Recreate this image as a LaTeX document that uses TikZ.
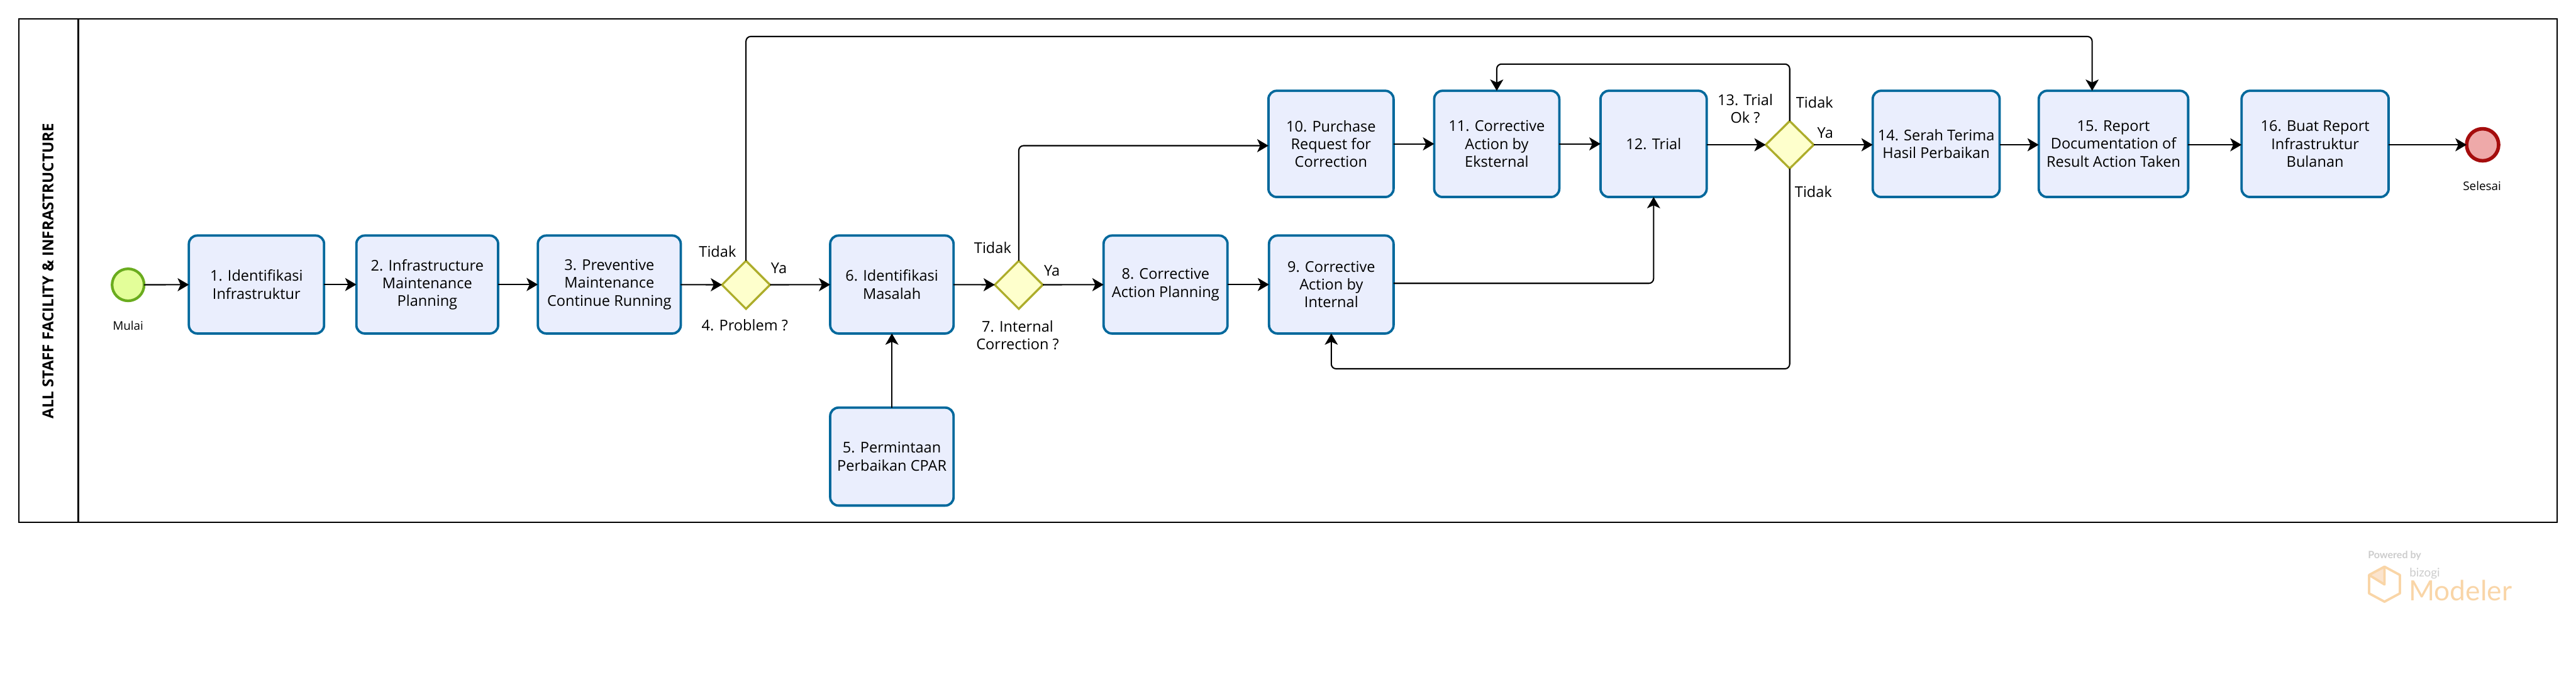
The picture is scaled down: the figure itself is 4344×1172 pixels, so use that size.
\documentclass[tikz,border=0pt]{standalone}
\usepackage{fontspec}
\setmainfont{Open Sans}
\newfontfamily\logofont{Lato}
\usetikzlibrary{arrows.meta,shapes.geometric}
\definecolor{taskfill}{HTML}{EAEEFD}
\definecolor{taskline}{HTML}{00689C}
\definecolor{startfill}{HTML}{E3FE99}
\definecolor{startline}{HTML}{6AAC1E}
\definecolor{endfill}{HTML}{EEA9A9}
\definecolor{endline}{HTML}{A50D0D}
\definecolor{gatefill}{HTML}{FEFFCC}
\definecolor{gateline}{HTML}{ADAD2B}
\definecolor{logoor}{HTML}{F9D5A7}
\definecolor{logosh}{HTML}{FBE4CE}
\definecolor{logogr}{HTML}{CCCCCC}
\tikzset{
  taskbox/.style={draw=taskline,fill=taskfill,line width=4pt,rounded corners=14pt,inner sep=0pt,outer sep=0pt,align=center,font=\fontsize{25}{30}\selectfont},
  gate/.style={draw=gateline,fill=gatefill,line width=3.5pt,diamond,aspect=1,inner sep=0pt,outer sep=0pt,minimum width=81pt,minimum height=81pt},
  startev/.style={draw=startline,fill=startfill,line width=4.5pt,circle,inner sep=0pt,outer sep=0pt,minimum size=54pt},
  endev/.style={draw=endline,fill=endfill,line width=6pt,circle,inner sep=0pt,outer sep=0pt,minimum size=54pt},
  flow/.style={draw=black,line width=2.2pt,rounded corners=8pt,-{Stealth[length=19pt,width=22pt,inset=5pt]}},
  lbl/.style={inner sep=0pt,align=center,font=\fontsize{25}{30}\selectfont},
  evlbl/.style={inner sep=0pt,font=\fontsize{20}{24}\selectfont}
}
\begin{document}
\begin{tikzpicture}[x=1pt,y=-1pt]
\useasboundingbox (0,0) rectangle (4344,1172);
% pool
\node[draw=black,line width=2.5pt,inner sep=0pt,outer sep=0pt,minimum width=4280pt,minimum height=848pt] (pool) at (2172,456) {};
\coordinate (divtop) at (132,32);
\coordinate (divbot) at (132,880);
\draw[line width=2.2pt] (divtop) -- (divbot);
\node[rotate=90,inner sep=0pt,font=\bfseries\fontsize{25.5}{30}\selectfont] (title) at (81,457) {ALL STAFF FACILITY \& INFRASTRUCTURE};
% events
\node[startev] (start) at (216,480) {};
\node[evlbl] (startl) at (216,549) {Mulai};
\node[endev] (finish) at (4186.5,244) {};
\node[evlbl] (finishl) at (4185.5,313) {Selesai};
% tasks
\node[taskbox,minimum width=228pt,minimum height=165pt] (t1) at (432.5,479.5) {1. Identifikasi\\Infrastruktur};
\node[taskbox,minimum width=239pt,minimum height=165pt] (t2) at (720.5,479.5) {2. Infrastructure\\Maintenance\\Planning};
\node[taskbox,minimum width=241pt,minimum height=165pt] (t3) at (1027.5,479.5) {3. Preventive\\Maintenance\\Continue Running};
\node[taskbox,minimum width=208pt,minimum height=165pt] (t6) at (1504,479.5) {6. Identifikasi\\Masalah};
\node[taskbox,minimum width=208pt,minimum height=165pt] (t5) at (1504,769.5) {5. Permintaan\\Perbaikan CPAR};
\node[taskbox,minimum width=209pt,minimum height=165pt] (t8) at (1965.5,479.5) {8. Corrective\\Action Planning};
\node[taskbox,minimum width=210pt,minimum height=165pt] (t9) at (2245,479.5) {9. Corrective\\Action by\\Internal};
\node[taskbox,minimum width=211pt,minimum height=179pt] (t10) at (2244.5,242.5) {10. Purchase\\Request for\\Correction};
\node[taskbox,minimum width=211pt,minimum height=179pt] (t11) at (2524,242.5) {11. Corrective\\Action by\\Eksternal};
\node[taskbox,minimum width=179pt,minimum height=179pt] (t12) at (2788.5,242.5) {12. Trial};
\node[taskbox,minimum width=214pt,minimum height=179pt] (t14) at (3265,242.5) {14. Serah Terima\\Hasil Perbaikan};
\node[taskbox,minimum width=252pt,minimum height=179pt] (t15) at (3564,242.5) {15. Report\\Documentation of\\Result Action Taken};
\node[taskbox,minimum width=248pt,minimum height=179pt] (t16) at (3904,242.5) {16. Buat Report\\Infrastruktur\\Bulanan};
% gateways
\node[gate] (d4) at (1258,480) {};
\node[gate] (d7) at (1718,480) {};
\node[gate,minimum height=80pt] (d13) at (3018,244) {};
% gateway labels
\node[lbl] (d4t) at (1210,424) {Tidak};
\node[lbl] (d4y) at (1313.5,452) {Ya};
\node[lbl] (d4n) at (1256,548) {4. Problem ?};
\node[lbl] (d7t) at (1674,418) {Tidak};
\node[lbl] (d7y) at (1774,456) {Ya};
\node[lbl] (d7n) at (1716,565) {7. Internal\\Correction ?};
\node[lbl] (d13n) at (2943,183) {13. Trial\\Ok ?};
\node[lbl] (d13t) at (3060,172) {Tidak};
\node[lbl] (d13y) at (3078,224) {Ya};
\node[lbl] (d13b) at (3058,323) {Tidak};
% route coordinates
\coordinate (topA) at (1258,61.5);
\coordinate (topB) at (3528,61.5);
\coordinate (loopT) at (3018,108);
\coordinate (loopB) at (3018,621.5);
\coordinate (c10) at (1718,245.5);
% flows
\draw[flow] (start) -- (t1);
\draw[flow] (t1) -- (t2);
\draw[flow] (t2) -- (t3);
\draw[flow] (t3) -- (d4);
\draw[flow] (d4) -- (t6);
\draw[flow] (t5) -- (t6);
\draw[flow] (t6) -- (d7);
\draw[flow] (d7) -- (t8);
\draw[flow] (t8) -- (t9);
\draw[flow] (d7.north) -- (c10) -- (c10 -| t10.west);
\draw[flow] (t10) -- (t11);
\draw[flow] (t11) -- (t12);
\draw[flow] (t9.east |- 0,477.5) -- (t12.south |- 0,477.5) -- (t12.south);
\draw[flow] (t12.east |- d13) -- (d13);
\draw[flow] (d13) -- (t14.west |- d13);
\draw[flow] (t14.east |- d13) -- (t15.west |- d13);
\draw[flow] (t15.east |- d13) -- (t16.west |- d13);
\draw[flow] (t16.east |- d13) -- (finish);
\draw[flow] (d4.north) -- (topA) -- (topB) -- (t15.north -| topB);
\draw[flow] (d13.north) -- (loopT) -- (loopT -| t11.north) -- (t11.north);
\draw[flow] (d13.south) -- (loopB) -- (loopB -| t9.south) -- (t9.south);
% logo
\node[anchor=west,inner sep=0pt,text=logogr,font=\logofont\bfseries\fontsize{17}{20}\selectfont] (pw) at (3993,936) {Powered by};
\node[anchor=west,inner sep=0pt,text=logogr,font=\logofont\fontsize{20}{24}\selectfont] (bz) at (4063,966) {bizogi};
\node[anchor=west,inner sep=0pt,text=logoor,font=\logofont\fontsize{47}{50}\selectfont] (md) at (4062,995) {Modeler};
\fill[logosh] (3995,969) -- (4021,985) -- (4021,955) -- cycle;
\draw[logoor,line width=4pt,line join=round] (4021,955) -- (4047,969) -- (4047,1000) -- (4021,1014) -- (3995,1000) -- (3995,969) -- cycle;
\draw[logoor,line width=4pt,line join=round] (3995,969) -- (4021,985) -- (4021,955);
\end{tikzpicture}
\end{document}
